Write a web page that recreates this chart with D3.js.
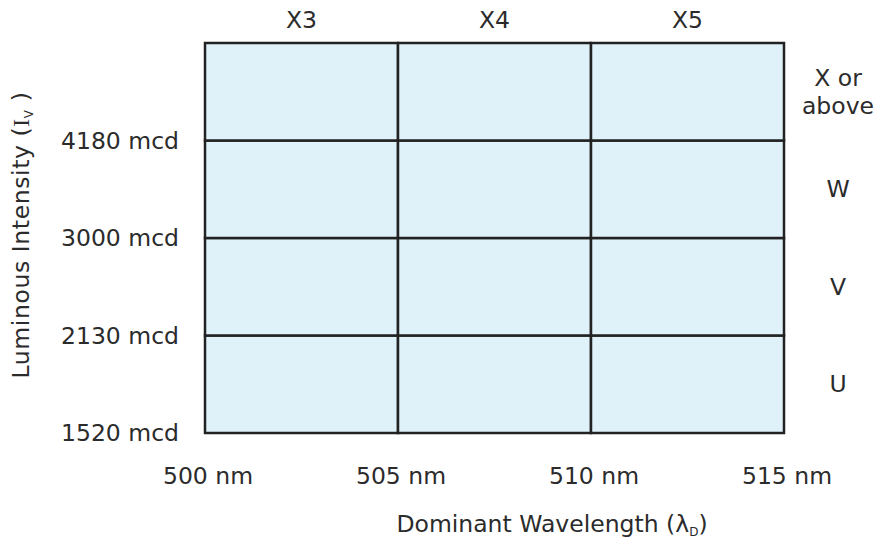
<!DOCTYPE html>
<html>
<head>
<meta charset="utf-8">
<script src="https://cdn.jsdelivr.net/npm/d3@7"></script>
<style>
  body { margin: 0; background: #fff; }
  text { font-family: "DejaVu Sans", Verdana, sans-serif; fill: #2b2b2b; }
</style>
</head>
<body>
<div id="chart"></div>
<script>
// bin edges and names
var wavelengths = [500, 505, 510, 515];
var intensities = [1520, 2130, 3000, 4180, "top"];
var colBins = ["X3", "X4", "X5"];
var rowBins = [["U"], ["V"], ["W"], ["X or", "above"]];

var W = 875, H = 541,
    margin = {top: 43, right: 91, bottom: 108, left: 205},
    fs = 23.5;

var svg = d3.select("#chart").append("svg")
    .attr("width", W)
    .attr("height", H);

var x = d3.scalePoint()
  .domain(wavelengths)
  .range([margin.left, W - margin.right]);

var y = d3.scalePoint()
  .domain(intensities)
  .range([H - margin.bottom, margin.top]);

// cells
var cells = [];
for (var i = 0; i < wavelengths.length - 1; i++) {
  for (var j = 0; j < intensities.length - 1; j++) {
    cells.push({x0: wavelengths[i], x1: wavelengths[i+1], y0: intensities[j], y1: intensities[j+1]});
  }
}
svg.selectAll("rect.cell")
  .data(cells)
  .enter().append("rect")
  .attr("class", "cell")
  .attr("x", d => x(d.x0))
  .attr("y", d => y(d.y1))
  .attr("width", d => x(d.x1) - x(d.x0))
  .attr("height", d => y(d.y0) - y(d.y1))
  .style("fill", "#dff2fa")
  .style("stroke", "#222")
  .style("stroke-width", 2.5);

// y tick labels (bin edges)
svg.selectAll("text.ylab")
  .data(intensities.slice(0, 4))
  .enter().append("text")
  .attr("class", "ylab")
  .attr("x", 179)
  .attr("y", d => y(d))
  .attr("dy", "0.35em")
  .attr("text-anchor", "end")
  .style("font-size", fs + "px")
  .text(d => d + " mcd");

// x tick labels
svg.selectAll("text.xlab")
  .data(wavelengths)
  .enter().append("text")
  .attr("class", "xlab")
  .attr("x", d => x(d) + 3)
  .attr("y", 484)
  .attr("text-anchor", "middle")
  .style("font-size", fs + "px")
  .text(d => d + " nm");

// column bin names on top
svg.selectAll("text.colbin")
  .data(colBins)
  .enter().append("text")
  .attr("class", "colbin")
  .attr("x", (d, i) => (x(wavelengths[i]) + x(wavelengths[i+1])) / 2)
  .attr("y", 28)
  .attr("text-anchor", "middle")
  .style("font-size", fs + "px")
  .text(d => d);

// row bin names on the right
rowBins.forEach(function(lines, j) {
  var cy = (y(intensities[j]) + y(intensities[j+1])) / 2;
  var t = svg.append("text")
    .attr("x", 838)
    .attr("text-anchor", "middle")
    .style("font-size", fs + "px");
  lines.forEach(function(l, k) {
    t.append("tspan")
      .attr("x", 838)
      .attr("y", cy + (k - (lines.length - 1) / 2) * 28)
      .attr("dy", "0.35em")
      .text(l);
  });
});

// axis titles
var xt = svg.append("text")
  .attr("x", 552)
  .attr("y", 532)
  .attr("text-anchor", "middle")
  .style("font-size", fs + "px");
xt.append("tspan").text("Dominant Wavelength (\u03bb");
xt.append("tspan").attr("baseline-shift", "-30%").style("font-size", "12px").text("D");
xt.append("tspan").text(")");

var yt = svg.append("text")
  .attr("transform", "translate(29," + 235 + ") rotate(-90)")
  .attr("text-anchor", "middle")
  .style("font-size", fs + "px")
  .style("letter-spacing", "0.6px");
yt.append("tspan").text("Luminous Intensity (");
yt.append("tspan").style("font-family", "'Liberation Serif', serif").text("I");
yt.append("tspan").attr("baseline-shift", "-30%").style("font-size", "12px").text("V");
yt.append("tspan").text(" )");
</script>
</body>
</html>
